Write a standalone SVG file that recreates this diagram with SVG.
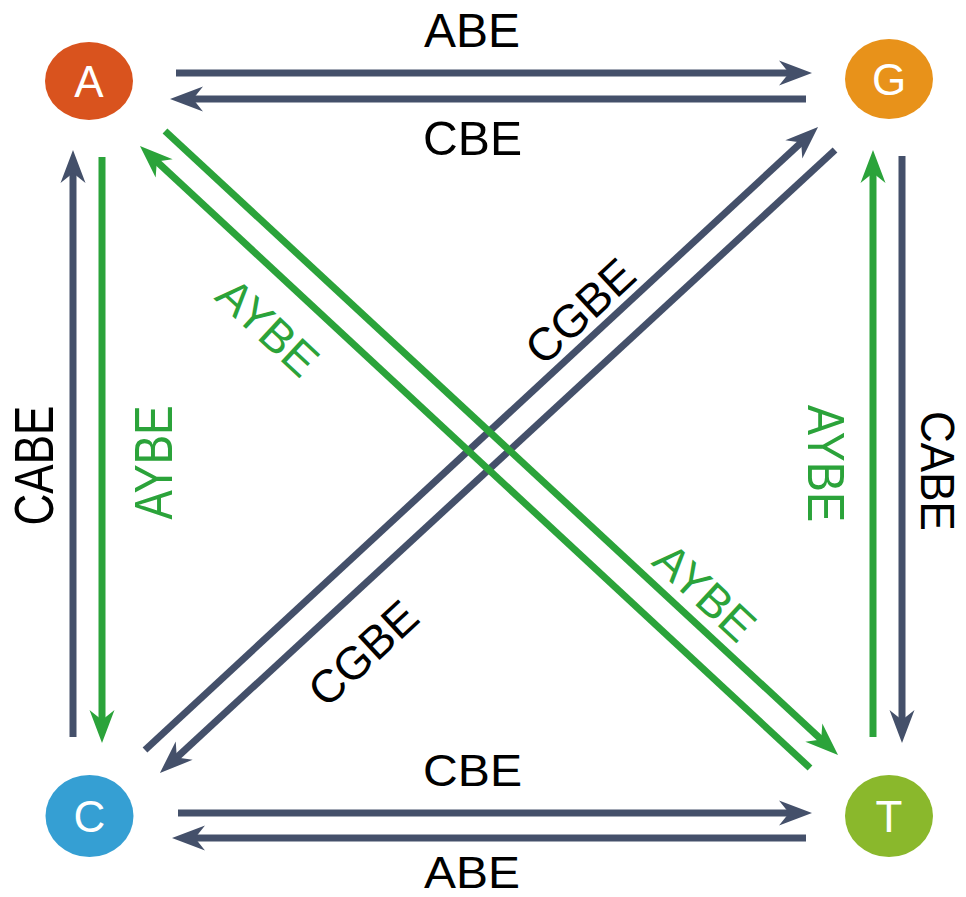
<svg xmlns="http://www.w3.org/2000/svg" width="966" height="897" viewBox="0 0 966 897">
<defs>
<style>
.lb{stroke:#44506A;stroke-width:7;fill:none}
.lg{stroke:#2BA33A;stroke-width:7;fill:none}
.mb{marker-end:url(#ab)}
.mg{marker-end:url(#ag)}
.t{font-family:"Liberation Sans",Arial,sans-serif;text-anchor:middle}
.k{fill:#000}
.g{fill:#2BA33A}
.w{fill:#fff;font-size:44px}
</style>
<marker id="ab" markerUnits="userSpaceOnUse" viewBox="0 -15 40 30" markerWidth="40" markerHeight="30" refX="11" refY="0" orient="auto" overflow="visible">
<path d="M33,0 L0,-12.5 L10,0 L0,12.5 Z" fill="#44506A"/>
</marker>
<marker id="ag" markerUnits="userSpaceOnUse" viewBox="0 -15 40 30" markerWidth="40" markerHeight="30" refX="11" refY="0" orient="auto" overflow="visible">
<path d="M33,0 L0,-12.5 L10,0 L0,12.5 Z" fill="#2BA33A"/>
</marker>
</defs>
<rect width="966" height="897" fill="#fff"/>
<g id="connectors">
<line class="lb mb" x1="176" y1="73" x2="790" y2="73"/>
<line class="lb mb" x1="806" y1="99" x2="192" y2="99"/>
<line class="lb mb" x1="178" y1="813" x2="790" y2="813"/>
<line class="lb mb" x1="806" y1="838" x2="194" y2="838"/>
<line class="lb mb" x1="73" y1="737" x2="73" y2="172"/>
<line class="lb mb" x1="902" y1="156" x2="902" y2="721"/>
<line class="lb mb" x1="145" y1="750" x2="801.9" y2="141.9"/>
<line class="lb mb" x1="835" y1="150" x2="176.1" y2="758.1"/>
<line class="lg mg" x1="102" y1="157" x2="102" y2="721"/>
<line class="lg mg" x1="873" y1="737" x2="873" y2="172"/>
<line class="lg mg" x1="165" y1="131" x2="821.9" y2="740.1"/>
<line class="lg mg" x1="810" y1="768" x2="156.1" y2="160.9"/>
</g>
<g id="labels">
<text class="t k" x="472" y="47" font-size="48" textLength="96" lengthAdjust="spacingAndGlyphs">ABE</text>
<text class="t k" x="472.5" y="155" font-size="48" textLength="99" lengthAdjust="spacingAndGlyphs">CBE</text>
<text class="t k" x="472.5" y="786" font-size="45" textLength="99" lengthAdjust="spacingAndGlyphs">CBE</text>
<text class="t k" x="472" y="888" font-size="44" textLength="96" lengthAdjust="spacingAndGlyphs">ABE</text>
<text class="t k" transform="translate(53,465.5) rotate(-90)" font-size="55" textLength="120" lengthAdjust="spacingAndGlyphs">CABE</text>
<text class="t g" transform="translate(172,462.5) rotate(-90)" font-size="54" textLength="114" lengthAdjust="spacingAndGlyphs">AYBE</text>
<text class="t g" transform="translate(808,463.5) rotate(90)" font-size="52" textLength="117" lengthAdjust="spacingAndGlyphs">AYBE</text>
<text class="t k" transform="translate(921,471) rotate(90)" font-size="49" textLength="120" lengthAdjust="spacingAndGlyphs">CABE</text>
<text class="t k" transform="translate(591,323) rotate(-42.8)" font-size="46">CGBE</text>
<text class="t k" transform="translate(374,665) rotate(-42.8)" font-size="46">CGBE</text>
<text class="t g" transform="translate(257,339) rotate(42.8)" font-size="46">AYBE</text>
<text class="t g" transform="translate(694,604) rotate(42.8)" font-size="46">AYBE</text>
</g>
<g id="node-A"><ellipse cx="89" cy="81" rx="44" ry="39" fill="#D9531E"/><text class="t w" x="89" y="97">A</text></g>
<g id="node-G"><ellipse cx="889" cy="79" rx="44" ry="40" fill="#E8921A"/><text class="t w" x="889" y="95">G</text></g>
<g id="node-C"><ellipse cx="89.5" cy="816" rx="44" ry="41" fill="#359FD3"/><text class="t w" x="89.5" y="832">C</text></g>
<g id="node-T"><ellipse cx="889" cy="816" rx="44" ry="41" fill="#8AB82C"/><text class="t w" x="889" y="832">T</text></g>
</svg>
